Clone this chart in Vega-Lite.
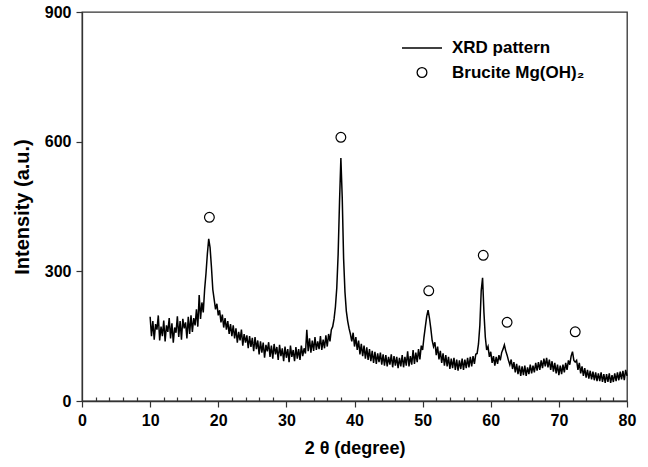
{
  "$schema": "https://vega.github.io/schema/vega-lite/v6.json",
  "width": 545,
  "height": 389,
  "autosize": "none",
  "padding": {"left": 82, "top": 12, "right": 21, "bottom": 66},
  "background": "white",
  "config": {
    "font": "Liberation Sans",
    "view": {"stroke": "#333", "strokeWidth": 1.3},
    "axis": {"domainColor": "#333", "domainWidth": 1.3, "tickColor": "#333", "tickWidth": 1.2, "grid": false, "labelFont": "Liberation Sans", "labelFontWeight": "bold", "labelColor": "black", "titleFont": "Liberation Sans", "titleFontWeight": "bold", "titleColor": "black"},
    "legend": {"labelFont": "Liberation Sans", "labelFontWeight": "bold", "labelFontSize": 17, "labelColor": "black"}
  },
  "datasets": {
    "xrd": [
{"t":10.0,"i":195},{"t":10.2,"i":150},{"t":10.4,"i":185},{"t":10.6,"i":142},{"t":10.8,"i":178},{"t":11.0,"i":165},{"t":11.2,"i":198},{"t":11.4,"i":140},{"t":11.6,"i":172},{"t":11.8,"i":150},
{"t":12.0,"i":186},{"t":12.2,"i":138},{"t":12.4,"i":175},{"t":12.6,"i":160},{"t":12.8,"i":192},{"t":13.0,"i":145},{"t":13.2,"i":180},{"t":13.4,"i":135},{"t":13.6,"i":170},{"t":13.8,"i":158},
{"t":14.0,"i":196},{"t":14.2,"i":148},{"t":14.4,"i":185},{"t":14.6,"i":142},{"t":14.8,"i":190},{"t":15.0,"i":168},{"t":15.2,"i":182},{"t":15.4,"i":145},{"t":15.6,"i":195},{"t":15.8,"i":155},
{"t":16.0,"i":198},{"t":16.2,"i":160},{"t":16.4,"i":192},{"t":16.6,"i":175},{"t":16.8,"i":212},{"t":17.0,"i":172},{"t":17.2,"i":245},{"t":17.4,"i":190},{"t":17.6,"i":228},{"t":17.8,"i":205},
{"t":18.0,"i":258},{"t":18.2,"i":295},{"t":18.4,"i":340},{"t":18.6,"i":375},{"t":18.8,"i":355},{"t":19.0,"i":310},{"t":19.2,"i":258},{"t":19.4,"i":235},{"t":19.6,"i":212},{"t":19.8,"i":225},
{"t":20.0,"i":198},{"t":20.2,"i":210},{"t":20.4,"i":182},{"t":20.6,"i":200},{"t":20.8,"i":170},{"t":21.0,"i":192},{"t":21.2,"i":165},{"t":21.4,"i":185},{"t":21.6,"i":155},{"t":21.8,"i":178},
{"t":22.0,"i":150},{"t":22.2,"i":175},{"t":22.4,"i":145},{"t":22.6,"i":168},{"t":22.8,"i":135},{"t":23.0,"i":160},{"t":23.2,"i":140},{"t":23.4,"i":165},{"t":23.6,"i":128},{"t":23.8,"i":155},
{"t":24.0,"i":135},{"t":24.2,"i":152},{"t":24.4,"i":122},{"t":24.6,"i":150},{"t":24.8,"i":125},{"t":25.0,"i":146},{"t":25.2,"i":115},{"t":25.4,"i":148},{"t":25.6,"i":120},{"t":25.8,"i":140},
{"t":26.0,"i":108},{"t":26.2,"i":138},{"t":26.4,"i":112},{"t":26.6,"i":135},{"t":26.8,"i":100},{"t":27.0,"i":130},{"t":27.2,"i":115},{"t":27.4,"i":136},{"t":27.6,"i":102},{"t":27.8,"i":128},
{"t":28.0,"i":98},{"t":28.2,"i":132},{"t":28.4,"i":108},{"t":28.6,"i":125},{"t":28.8,"i":95},{"t":29.0,"i":130},{"t":29.2,"i":104},{"t":29.4,"i":122},{"t":29.6,"i":92},{"t":29.8,"i":126},
{"t":30.0,"i":100},{"t":30.2,"i":120},{"t":30.4,"i":90},{"t":30.6,"i":128},{"t":30.8,"i":102},{"t":31.0,"i":118},{"t":31.2,"i":92},{"t":31.4,"i":125},{"t":31.6,"i":98},{"t":31.8,"i":120},
{"t":32.0,"i":95},{"t":32.2,"i":128},{"t":32.4,"i":104},{"t":32.6,"i":122},{"t":32.8,"i":110},{"t":33.0,"i":165},{"t":33.2,"i":115},{"t":33.4,"i":145},{"t":33.6,"i":112},{"t":33.8,"i":140},
{"t":34.0,"i":116},{"t":34.2,"i":148},{"t":34.4,"i":118},{"t":34.6,"i":138},{"t":34.8,"i":120},{"t":35.0,"i":150},{"t":35.2,"i":118},{"t":35.4,"i":142},{"t":35.6,"i":122},{"t":35.8,"i":152},
{"t":36.0,"i":126},{"t":36.2,"i":155},{"t":36.4,"i":138},{"t":36.6,"i":165},{"t":36.8,"i":172},{"t":37.0,"i":190},{"t":37.2,"i":218},{"t":37.4,"i":262},{"t":37.6,"i":340},{"t":37.8,"i":460},
{"t":38.0,"i":562},{"t":38.2,"i":470},{"t":38.4,"i":330},{"t":38.6,"i":252},{"t":38.8,"i":208},{"t":39.0,"i":185},{"t":39.2,"i":168},{"t":39.4,"i":155},{"t":39.6,"i":138},{"t":39.8,"i":158},
{"t":40.0,"i":126},{"t":40.2,"i":148},{"t":40.4,"i":118},{"t":40.6,"i":140},{"t":40.8,"i":108},{"t":41.0,"i":132},{"t":41.2,"i":104},{"t":41.4,"i":128},{"t":41.6,"i":98},{"t":41.8,"i":124},
{"t":42.0,"i":95},{"t":42.2,"i":120},{"t":42.4,"i":92},{"t":42.6,"i":116},{"t":42.8,"i":88},{"t":43.0,"i":114},{"t":43.2,"i":86},{"t":43.4,"i":110},{"t":43.6,"i":90},{"t":43.8,"i":112},
{"t":44.0,"i":84},{"t":44.2,"i":108},{"t":44.4,"i":82},{"t":44.6,"i":106},{"t":44.8,"i":80},{"t":45.0,"i":102},{"t":45.2,"i":84},{"t":45.4,"i":108},{"t":45.6,"i":78},{"t":45.8,"i":104},
{"t":46.0,"i":82},{"t":46.2,"i":102},{"t":46.4,"i":76},{"t":46.6,"i":100},{"t":46.8,"i":80},{"t":47.0,"i":106},{"t":47.2,"i":78},{"t":47.4,"i":102},{"t":47.6,"i":82},{"t":47.8,"i":115},
{"t":48.0,"i":80},{"t":48.2,"i":104},{"t":48.4,"i":84},{"t":48.6,"i":118},{"t":48.8,"i":86},{"t":49.0,"i":112},{"t":49.2,"i":90},{"t":49.4,"i":120},{"t":49.6,"i":96},{"t":49.8,"i":128},
{"t":50.0,"i":118},{"t":50.2,"i":148},{"t":50.4,"i":172},{"t":50.6,"i":196},{"t":50.8,"i":210},{"t":51.0,"i":192},{"t":51.2,"i":168},{"t":51.4,"i":140},{"t":51.6,"i":126},{"t":51.8,"i":136},
{"t":52.0,"i":106},{"t":52.2,"i":126},{"t":52.4,"i":96},{"t":52.6,"i":116},{"t":52.8,"i":88},{"t":53.0,"i":110},{"t":53.2,"i":82},{"t":53.4,"i":106},{"t":53.6,"i":80},{"t":53.8,"i":102},
{"t":54.0,"i":74},{"t":54.2,"i":98},{"t":54.4,"i":76},{"t":54.6,"i":100},{"t":54.8,"i":72},{"t":55.0,"i":96},{"t":55.2,"i":70},{"t":55.4,"i":94},{"t":55.6,"i":74},{"t":55.8,"i":98},
{"t":56.0,"i":72},{"t":56.2,"i":96},{"t":56.4,"i":76},{"t":56.6,"i":100},{"t":56.8,"i":78},{"t":57.0,"i":102},{"t":57.2,"i":80},{"t":57.4,"i":104},{"t":57.6,"i":86},{"t":57.8,"i":108},
{"t":58.0,"i":110},{"t":58.2,"i":132},{"t":58.4,"i":175},{"t":58.6,"i":255},{"t":58.8,"i":285},{"t":59.0,"i":205},{"t":59.2,"i":148},{"t":59.4,"i":118},{"t":59.6,"i":126},{"t":59.8,"i":102},
{"t":60.0,"i":114},{"t":60.2,"i":88},{"t":60.4,"i":104},{"t":60.6,"i":82},{"t":60.8,"i":102},{"t":61.0,"i":86},{"t":61.2,"i":106},{"t":61.4,"i":94},{"t":61.6,"i":112},{"t":61.8,"i":120},
{"t":62.0,"i":130},{"t":62.2,"i":116},{"t":62.4,"i":106},{"t":62.6,"i":94},{"t":62.8,"i":84},{"t":63.0,"i":96},{"t":63.2,"i":74},{"t":63.4,"i":90},{"t":63.6,"i":66},{"t":63.8,"i":86},
{"t":64.0,"i":62},{"t":64.2,"i":82},{"t":64.4,"i":58},{"t":64.6,"i":80},{"t":64.8,"i":60},{"t":65.0,"i":82},{"t":65.2,"i":58},{"t":65.4,"i":78},{"t":65.6,"i":62},{"t":65.8,"i":84},
{"t":66.0,"i":64},{"t":66.2,"i":82},{"t":66.4,"i":66},{"t":66.6,"i":88},{"t":66.8,"i":70},{"t":67.0,"i":90},{"t":67.2,"i":72},{"t":67.4,"i":94},{"t":67.6,"i":76},{"t":67.8,"i":98},
{"t":68.0,"i":80},{"t":68.2,"i":100},{"t":68.4,"i":78},{"t":68.6,"i":96},{"t":68.8,"i":72},{"t":69.0,"i":92},{"t":69.2,"i":68},{"t":69.4,"i":88},{"t":69.6,"i":64},{"t":69.8,"i":84},
{"t":70.0,"i":60},{"t":70.2,"i":82},{"t":70.4,"i":62},{"t":70.6,"i":84},{"t":70.8,"i":66},{"t":71.0,"i":88},{"t":71.2,"i":72},{"t":71.4,"i":94},{"t":71.6,"i":84},{"t":71.8,"i":104},
{"t":72.0,"i":114},{"t":72.2,"i":94},{"t":72.4,"i":90},{"t":72.6,"i":94},{"t":72.8,"i":72},{"t":73.0,"i":88},{"t":73.2,"i":64},{"t":73.4,"i":80},{"t":73.6,"i":58},{"t":73.8,"i":76},
{"t":74.0,"i":54},{"t":74.2,"i":72},{"t":74.4,"i":52},{"t":74.6,"i":70},{"t":74.8,"i":50},{"t":75.0,"i":68},{"t":75.2,"i":48},{"t":75.4,"i":66},{"t":75.6,"i":46},{"t":75.8,"i":64},
{"t":76.0,"i":46},{"t":76.2,"i":66},{"t":76.4,"i":44},{"t":76.6,"i":62},{"t":76.8,"i":42},{"t":77.0,"i":62},{"t":77.2,"i":44},{"t":77.4,"i":64},{"t":77.6,"i":42},{"t":77.8,"i":60},
{"t":78.0,"i":44},{"t":78.2,"i":64},{"t":78.4,"i":46},{"t":78.6,"i":66},{"t":78.8,"i":48},{"t":79.0,"i":68},{"t":79.2,"i":50},{"t":79.4,"i":70},{"t":79.6,"i":48},{"t":79.8,"i":72},
{"t":80.0,"i":58}
    ],
    "peaks": [
      {"t":18.7,"i":425,"s":"Brucite Mg(OH)₂"},
      {"t":38.0,"i":610,"s":"Brucite Mg(OH)₂"},
      {"t":50.9,"i":255,"s":"Brucite Mg(OH)₂"},
      {"t":58.9,"i":337,"s":"Brucite Mg(OH)₂"},
      {"t":62.4,"i":182,"s":"Brucite Mg(OH)₂"},
      {"t":72.4,"i":160,"s":"Brucite Mg(OH)₂"}
    ]
  },
  "layer": [
    {
      "data": {"name": "xrd"},
      "mark": {"type": "line", "color": "black", "strokeWidth": 1.5},
      "encoding": {
        "x": {"field": "t", "type": "quantitative", "scale": {"domain": [0, 80], "nice": false, "zero": false},
          "axis": {"orient": "bottom", "values": [0,10,20,30,40,50,60,70,80], "tickSize": 6, "labelPadding": 5, "labelFontSize": 16, "title": "2 θ (degree)", "titleFontSize": 18, "titlePadding": 11, "labelFlush": false}},
        "y": {"field": "i", "type": "quantitative", "scale": {"domain": [0, 900], "nice": false},
          "axis": {"values": [0,300,600,900], "tickSize": 6, "labelPadding": 5, "labelFontSize": 16, "title": "Intensity (a.u.)", "titleFontSize": 20, "titlePadding": 12, "labelFlush": false}}
      }
    },
    {
      "data": {"name": "peaks"},
      "mark": {"type": "point", "filled": false, "stroke": "black", "strokeWidth": 1.2, "opacity": 1},
      "encoding": {
        "x": {"field": "t", "type": "quantitative",
          "axis": {"orient": "bottom", "values": [2,4,6,8,12,14,16,18,22,24,26,28,32,34,36,38,42,44,46,48,52,54,56,58,62,64,66,68,72,74,76,78], "tickSize": -4, "labels": false, "domain": false, "title": null}},
        "y": {"field": "i", "type": "quantitative"},
        "shape": {"field": "s", "type": "nominal", "scale": {"domain": ["XRD pattern", "Brucite Mg(OH)₂"], "range": ["M-2,0L2,0", "circle"]},
          "legend": {"title": null, "orient": "none", "legendX": 329, "legendY": 25, "padding": 0, "labelOffset": 19, "rowPadding": 7, "symbolStrokeColor": "black", "symbolStrokeWidth": 1.3, "symbolFillColor": "transparent"}},
        "size": {"field": "s", "type": "nominal", "scale": {"domain": ["XRD pattern", "Brucite Mg(OH)₂"], "range": [400, 95]},
          "legend": {"title": null, "orient": "none", "legendX": 329, "legendY": 25, "padding": 0, "labelOffset": 19, "rowPadding": 7, "symbolStrokeColor": "black", "symbolStrokeWidth": 1.3, "symbolFillColor": "transparent"}}
      }
    }
  ],
  "resolve": {"axis": {"x": "independent"}}
}
